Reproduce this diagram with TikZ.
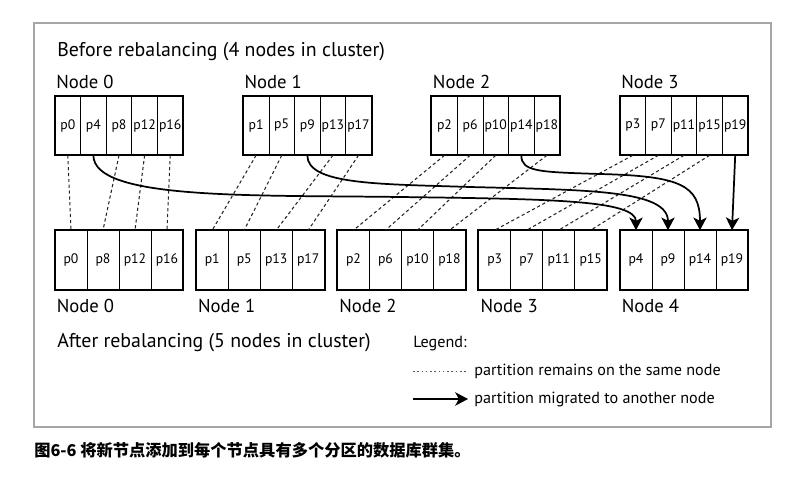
\documentclass[tikz,border=0pt]{standalone}
\usepackage{fontspec}
\setmainfont{PT Sans}
\newfontfamily\cjk{Noto Sans CJK SC}
\usetikzlibrary{arrows.meta}

\tikzset{
  pcell/.style={draw, line width=0.5pt, inner sep=0pt, minimum height=44.25pt, font=\fontsize{10.3}{12}\selectfont},
  topcell/.style={pcell, minimum width=19.2pt},
  botcell/.style={pcell, minimum width=24pt},
  nodebox/.style={line width=1.4pt},
  nodelabel/.style={anchor=base west, inner sep=0pt, font=\fontsize{14}{16}\selectfont},
  headline/.style={anchor=base west, inner sep=0pt, font=\fontsize{14.9}{17}\selectfont},
  legendtext/.style={anchor=base west, inner sep=0pt, font=\fontsize{12.1}{14}\selectfont},
  stay/.style={dash pattern=on 2.4pt off 2pt, line width=0.8pt, black!85},
  legdot/.style={dash pattern=on 1.2pt off 2pt, line width=0.6pt, black!65},
  move/.style={line width=1.3pt, -{Stealth[length=9.5pt,width=10pt,inset=2.5pt]}},
}

\begin{document}
\begin{tikzpicture}[x=0.75pt,y=-0.75pt]
	\useasboundingbox (0,0) rectangle (795,481);
	\draw [black!35, line width=1pt] (34,23) rectangle (771,427);

	\node [headline] (before) at (57,56.5) {Before rebalancing (4 nodes in cluster)};

	% before: 4 nodes with 5 partitions each
	\foreach \p [count=\j from 0] in {p0,p4,p8,p12,p16}
		\node [topcell] (b0-\j) at (67.8+25.6*\j,125.5) {\p};
	\foreach \p [count=\j from 0] in {p1,p5,p9,p13,p17}
		\node [topcell] (b1-\j) at (256.1+25.6*\j,125.5) {\p};
	\foreach \p [count=\j from 0] in {p2,p6,p10,p14,p18}
		\node [topcell] (b2-\j) at (444.5+25.6*\j,125.5) {\p};
	\foreach \p [count=\j from 0] in {p3,p7,p11,p15,p19}
		\node [topcell] (b3-\j) at (632.8+25.6*\j,125.5) {\p};
	\foreach \i in {0,...,3}
		\draw [nodebox] (b\i-0.north west) rectangle (b\i-4.south east);

	\node [nodelabel] (bn0) at (56,88.3) {Node 0};
	\node [nodelabel] (bn1) at (244.3,88.3) {Node 1};
	\node [nodelabel] (bn2) at (432.7,88.3) {Node 2};
	\node [nodelabel] (bn3) at (621,88.3) {Node 3};

	% after: 5 nodes with 4 partitions each
	\foreach \p [count=\k from 0] in {p0,p8,p12,p16}
		\node [botcell] (a0-\k) at (71+32*\k,260) {\p};
	\foreach \p [count=\k from 0] in {p1,p5,p13,p17}
		\node [botcell] (a1-\k) at (212.25+32*\k,260) {\p};
	\foreach \p [count=\k from 0] in {p2,p6,p10,p18}
		\node [botcell] (a2-\k) at (353.5+32*\k,260) {\p};
	\foreach \p [count=\k from 0] in {p3,p7,p11,p15}
		\node [botcell] (a3-\k) at (494.75+32*\k,260) {\p};
	\foreach \p [count=\k from 0] in {p4,p9,p14,p19}
		\node [botcell] (a4-\k) at (636+32*\k,260) {\p};
	\foreach \i in {0,...,4}
		\draw [nodebox] (a\i-0.north west) rectangle (a\i-3.south east);

	\node [nodelabel] (an0) at (56.5,312.5) {Node 0};
	\node [nodelabel] (an1) at (197.75,312.5) {Node 1};
	\node [nodelabel] (an2) at (339,312.5) {Node 2};
	\node [nodelabel] (an3) at (480.25,312.5) {Node 3};
	\node [nodelabel] (an4) at (621.5,312.5) {Node 4};

	\node [headline] (after) at (57,347.5) {After rebalancing (5 nodes in cluster)};

	% partitions that stay
	\foreach \j/\k in {0/0,2/1,3/2,4/3}
		\draw [stay] (b0-\j.south) -- (a0-\k.north);
	\foreach \j/\k in {0/0,1/1,3/2,4/3}
		\draw [stay] (b1-\j.south) -- (a1-\k.north);
	\foreach \j/\k in {0/0,1/1,2/2,4/3}
		\draw [stay] (b2-\j.south) -- (a2-\k.north);
	\foreach \j in {0,...,3}
		\draw [stay] (b3-\j.south) -- (a3-\j.north);

	% partitions that move to node 4
	\draw [move] (b0-1.south) .. controls (93.4,200) and (250,195) .. (400,197)
		.. controls (550,199) and (636,200) .. (a4-0.north);
	\draw [move] (b1-2.south) .. controls (307.3,185) and (380,184) .. (470,187)
		.. controls (590,190) and (668,190) .. (a4-1.north);
	\draw [move] (b2-3.south) .. controls (521.3,172) and (540,172) .. (600,174)
		.. controls (680,176) and (700,185) .. (a4-2.north);
	\draw [move] (b3-4.south) -- (a4-3.north);

	% legend
	\node [legendtext] (legend) at (413,347.5) {Legend:};
	\coordinate (ls0) at (413,371);
	\coordinate (ls1) at (466,371);
	\draw [legdot] (ls0) -- (ls1);
	\node [legendtext] (lstay) at (474,375) {partition remains on the same node};
	\coordinate (lm0) at (413,399);
	\coordinate (lm1) at (468,399);
	\draw [move] (lm0) -- (lm1);
	\node [legendtext] (lmove) at (474,403) {partition migrated to another node};

	\node [anchor=base west, inner sep=0pt, font=\cjk\bfseries\fontsize{12.2}{14}\selectfont] (caption) at (34,456.5) {图6-6 将新节点添加到每个节点具有多个分区的数据库群集。};
\end{tikzpicture}
\end{document}
